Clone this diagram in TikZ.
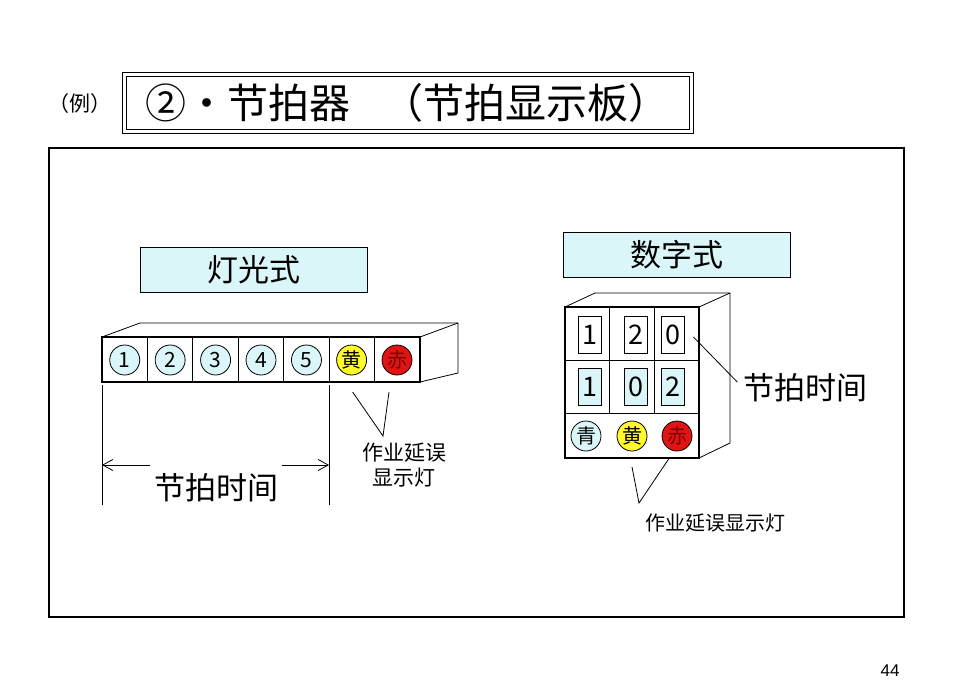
\documentclass[tikz,border=0pt]{standalone}
\usepackage{fontspec}
\setmainfont{Noto Sans CJK SC}
\newfontfamily\numfont{Liberation Sans}
\usetikzlibrary{arrows.meta,positioning,calc}

\definecolor{paleblue}{RGB}{218,246,248}
\definecolor{lampyellow}{RGB}{255,250,40}
\definecolor{lampred}{RGB}{225,20,20}
\definecolor{darkred}{RGB}{120,0,0}

\newcommand{\fsz}[1]{\fontsize{#1}{#1}\selectfont}

\begin{document}
\begin{tikzpicture}[x=1pt,y=-1pt,line width=0.8pt,
  lampcirc/.style={circle,draw,minimum size=30pt,inner sep=0pt,font=\fsz{20}},
  digitbox/.style={draw,minimum width=23pt,minimum height=37pt,inner sep=0pt,font=\fsz{27}},
  headbox/.style={draw,fill=paleblue,minimum width=227pt,minimum height=45pt,inner sep=0pt,font=\fsz{31}},
  dimarrow/.style={-{Straight Barb[length=10pt,width=11pt]}},
  front/.style={line width=2.5pt}]
  \useasboundingbox (0,0) rectangle (960,685);

  % title
  \node[font=\fsz{21}] (ex) at (80,104) {（例）};
  \draw (122,72) rectangle (693,133);
  \draw (126,76) rectangle (689,129);
  \node[font=\fsz{41},anchor=west,inner sep=0pt] (title) at (145,103) {②・节拍器\hspace{32pt}（节拍显示板）};

  % frame
  \draw[line width=2.5pt] (49,148) rectangle (904,617);

  % headings
  \node[headbox] (lhead) at (253.5,270) {灯光式};
  \node[headbox] (rhead) at (676.5,254.5) {数字式};

  % lamp type: box
  \draw (102,337) -- (140,323) -- (458,323) -- (458,373) -- (420,382);
  \draw (420,337) -- (458,323);
  \draw[front] (102,337) rectangle (420,382);
  \foreach \i in {1,...,6}
    \draw (102+\i*45.43,337) -- ++(0,45);

  % lamp type: lamps
  \foreach \n [count=\i] in {1,...,5}
    \node[lampcirc,fill=paleblue,font=\fsz{21}] (l\i) at (102+45.43*\i-22.7,360) {\n};
  \node[lampcirc,fill=lampyellow] (ly) at (351.6,360) {黄};
  \node[lampcirc,fill=lampred,text=darkred] (lr) at (397,360) {赤};

  % lamp type: takt time
  \coordinate (al) at (102,465);
  \coordinate (ar) at (329,465);
  \draw (102,385) -- (102,505);
  \draw (329,385) -- (329,505);
  \node[font=\fsz{31}] (lt) at (216,488) {节拍时间};
  \draw[dimarrow] (lt.west |- al) -- (al);
  \draw[dimarrow] (lt.east |- ar) -- (ar);

  % lamp type: delay lamps
  \node[font=\fsz{21},align=center,inner sep=0pt] (lnote) at (404,465) {作业延误\\[4pt]显示灯};
  \coordinate (lp) at (383,436);
  \draw ($(ly)+(1,32)$) -- (lp) -- ($(lr)+(-8,32)$);

  % digital type: box
  \draw (565,307) -- (595,293) -- (730,293) -- (730,443) -- (699,458);
  \draw (699,307) -- (730,293);
  \draw[front] (565,307) rectangle (699,458);
  \draw (609,307) -- (609,413);
  \draw (654,307) -- (654,413);
  \draw (565,360) -- (699,360);
  \draw (565,413) -- (699,413);

  % digital type: digits
  \foreach \d/\x [count=\i] in {1/590,2/635.5,0/672.5}
    \node[digitbox,fill=white] (d\i) at (\x,335) {\d};
  \foreach \d/\x [count=\i] in {1/590,0/635.5,2/672.5}
    \node[digitbox,fill=paleblue] (e\i) at (\x,387) {\d};

  % digital type: lamps
  \node[lampcirc,fill=paleblue] (rb) at (586,436) {青};
  \node[lampcirc,fill=lampyellow] (ry) at (632,436) {黄};
  \node[lampcirc,fill=lampred,text=darkred] (rr) at (677,436) {赤};

  % digital type: labels
  \node[font=\fsz{31}] (rt) at (805,388) {节拍时间};
  \draw ($(d3.east)+(9,2)$) -- ($(rt.west)+(-2,-6)$);
  \node[font=\fsz{20}] (rnote) at (715,523) {作业延误显示灯};
  \coordinate (rp) at (639,503);
  \draw ($(ry)+(0,31)$) -- (rp) -- ($(rr)+(-7,21)$);

  % page number
  \node[font=\numfont\fsz{17}] (page) at (890,671) {44};
\end{tikzpicture}
\end{document}
